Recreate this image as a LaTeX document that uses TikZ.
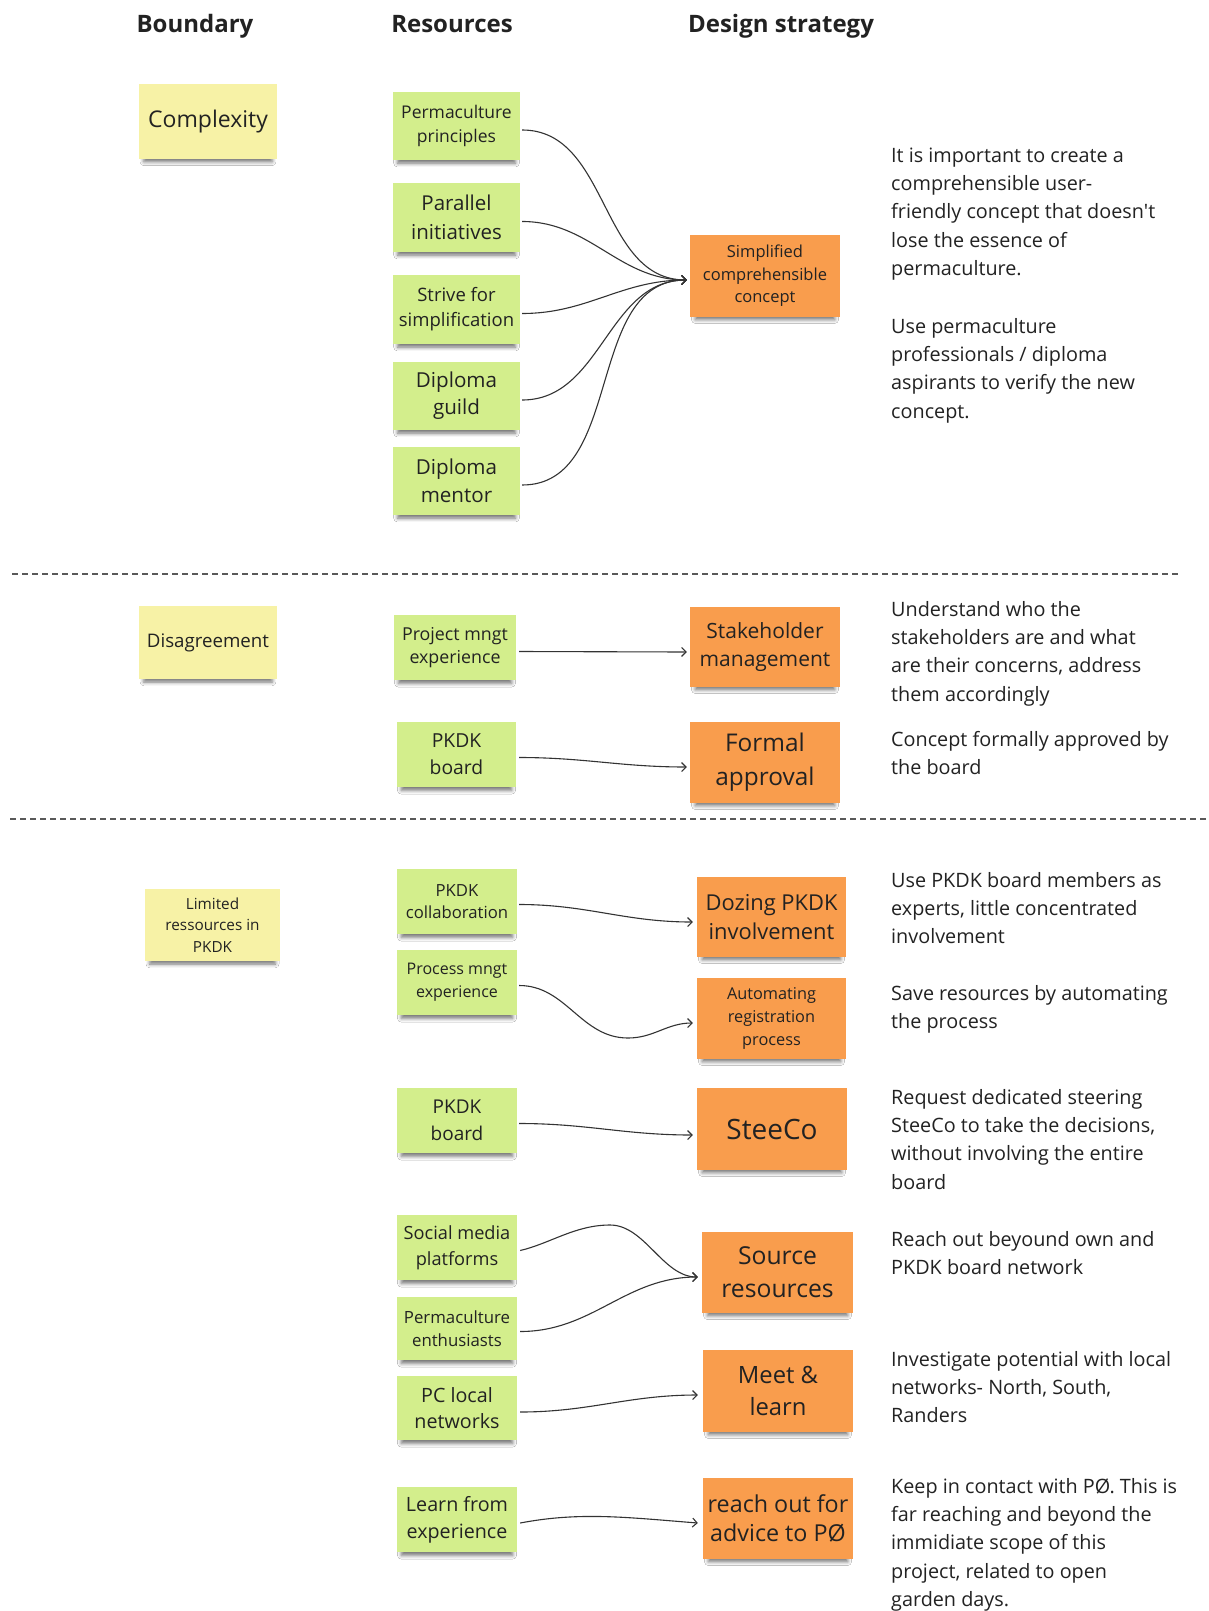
\documentclass[tikz,border=0pt]{standalone}
\usepackage{fontspec}
\setmainfont{Open Sans}
\usetikzlibrary{arrows.meta,shadows.blur,calc}

\definecolor{notegreen}{HTML}{D3EE8C}
\definecolor{noteyellow}{HTML}{F7F2A6}
\definecolor{noteorange}{HTML}{F99D4D}
\definecolor{ink}{HTML}{222222}
\definecolor{wire}{HTML}{333333}

\tikzset{
  sticky/.style={inner sep=0pt, align=center, text=ink,
    blur shadow={shadow xshift=0pt, shadow yshift=-6pt, shadow opacity=55,
                 shadow blur radius=4pt, shadow scale=0.93}},
  yellownote/.style={sticky, fill=noteyellow},
  greennote/.style={sticky, fill=notegreen},
  orangenote/.style={sticky, fill=noteorange},
  boxsize/.style 2 args={minimum width=#1pt, minimum height=#2pt},
  fs/.style 2 args={font=\fontsize{#1}{#2}\selectfont},
  conn/.style={draw=wire, line width=1.1pt, -{Straight Barb[length=4.5pt,width=9pt]}},
  divider/.style={draw=black!65, line width=1.2pt, dash pattern=on 6pt off 4pt},
  header/.style={anchor=base, inner sep=0pt, text=ink, font=\fontsize{24}{28}\selectfont\bfseries},
  % multi-line text: the base anchor sits on the last line
  desc/.style={anchor=base west, align=left, inner sep=0pt, text=ink, font=\fontsize{19.8}{28.4}\selectfont},
}

\begin{document}
\begin{tikzpicture}[x=1pt,y=-1pt]
\useasboundingbox (0,0) rectangle (1208,1611);
\fill[white] (0,0) rectangle (1208,1611);

% column headings
\node[header] (hb) at (195,33) {Boundary};
\node[header] (hr) at (452,33) {Resources};
\node[header] (hd) at (781,33) {Design strategy};

% section dividers
\draw[divider] (12,574) -- (1181,574);
\draw[divider] (10,819) -- (1208,819);

% ---------- boundaries ----------
\node[yellownote, boxsize={138}{75}, fs={23}{28}] (cplx) at (208,121.5) {Complexity};
\node[yellownote, boxsize={138}{73}, fs={18.7}{24}] (disag) at (208,642.5) {Disagreement};
\node[yellownote, boxsize={135}{72}, fs={15.3}{21.3}] (limited) at (212.5,925) {Limited\\ressources in\\PKDK};

% ---------- resources: complexity ----------
\node[greennote, boxsize={127}{68}, fs={17.5}{24.7}] (pp) at (456.5,126) {Permaculture\\principles};
\node[greennote, boxsize={127}{69}, fs={20.5}{29}] (par) at (456.5,217.5) {Parallel\\initiatives};
\node[greennote, boxsize={127}{69}, fs={18.5}{25}] (strive) at (456.5,309.5) {Strive for\\simplification};
\node[greennote, boxsize={127}{68}, fs={20.6}{27}] (guild) at (456.5,396) {Diploma\\guild};
\node[greennote, boxsize={127}{68}, fs={20.6}{27.5}] (mentor) at (456.5,481) {Diploma\\mentor};

% ---------- resources: disagreement ----------
\node[greennote, boxsize={122}{65}, fs={17.8}{23.5}] (pm) at (455,647.5) {Project mngt\\experience};
\node[greennote, boxsize={119}{65}, fs={19.3}{26.7}] (boardA) at (456.5,754.5) {PKDK\\board};

% ---------- resources: limited ressources ----------
\node[greennote, boxsize={120}{65}, fs={16.7}{22.5}] (collab) at (457,901.5) {PKDK\\collaboration};
\node[greennote, boxsize={120}{65}, fs={16}{23.3}] (procm) at (457,982.5) {Process mngt\\experience};
\node[greennote, boxsize={120}{65}, fs={19}{26.7}] (boardB) at (457,1120.5) {PKDK\\board};
\node[greennote, boxsize={120}{65}, fs={18.2}{26}] (social) at (457,1247.5) {Social media\\platforms};
\node[greennote, boxsize={120}{63}, fs={16.8}{22.7}] (enth) at (457,1328.5) {Permaculture\\enthusiasts};
\node[greennote, boxsize={120}{64}, fs={19.7}{26.7}] (pcl) at (457,1408) {PC local\\networks};
\node[greennote, boxsize={120}{65}, fs={19.7}{26.7}] (lexp) at (457,1519.5) {Learn from\\experience};

% ---------- design strategies ----------
\node[orangenote, boxsize={150}{82}, fs={16.5}{22.5}] (simp) at (765,276) {Simplified\\comprehensible\\concept};
\node[orangenote, boxsize={150}{80}, fs={21}{27.3}] (stake) at (765,647) {Stakeholder\\management};
\node[orangenote, boxsize={150}{81}, fs={24.4}{34}] (formal) at (765,762.5) {Formal\\approval};
\node[orangenote, boxsize={149}{80}, fs={21.9}{28.3}] (dozing) at (771.5,917) {Dozing PKDK\\involvement};
\node[orangenote, boxsize={149}{81}, fs={16.3}{23.3}] (auto) at (771.5,1018.5) {Automating\\registration\\process};
\node[orangenote, boxsize={150}{82}, fs={28}{32}] (steeco) at (772,1129) {SteeCo};
\node[orangenote, boxsize={151}{81}, fs={24.7}{33.3}] (source) at (777.5,1272.5) {Source\\resources};
\node[orangenote, boxsize={150}{82}, fs={23.8}{32.7}] (meet) at (778,1391) {Meet \&\\learn};
\node[orangenote, boxsize={150}{81}, fs={23.3}{28.3}] (reach) at (778,1518.5) {reach out for\\advice to PØ};

% ---------- connectors ----------
\coordinate (simpin) at ($(simp.west)+(-3,4)$);
\foreach \r in {pp,par,strive,guild,mentor}
  \draw[conn] ($(\r.east)+(2,4)$) to[out=0,in=180] (simpin);

\draw[conn] ($(pm.east)+(3,4)$) -- ($(stake.west)+(-3,5)$);
\draw[conn] ($(boardA.east)+(3,3)$) to[out=0,in=180] ($(formal.west)+(-3,4.5)$);

\draw[conn] ($(collab.east)+(2,3)$) to[out=0,in=180] ($(dozing.west)+(-4,5)$);
\coordinate (dip) at (628,1038);
\draw[conn] ($(procm.east)+(2,3)$) to[out=0,in=180] (dip) to[out=0,in=180] ($(auto.west)+(-4,4.5)$);
\draw[conn] ($(boardB.east)+(2,3)$) to[out=0,in=180] ($(steeco.west)+(-4,6)$);

\coordinate (crest) at (610,1225);
\coordinate (sourcein) at ($(source.west)+(-4,4.5)$);
\draw[conn] ($(social.east)+(3,3)$) .. controls ($(social.east)+(33,-4)$) and ($(crest)+(-35,0)$) .. (crest)
  .. controls ($(crest)+(35,0)$) and ($(sourcein)+(-35,0)$) .. (sourcein);
\draw[conn] ($(enth.east)+(3,3)$) to[out=0,in=180] (sourcein);
\draw[conn] ($(pcl.east)+(3,4)$) to[out=0,in=180] ($(meet.west)+(-5,4)$);
\draw[conn] ($(lexp.east)+(3,3.5)$) .. controls ($(lexp.east)+(63,-8)$) and ($(reach.west)+(-75,-1)$) .. ($(reach.west)+(-5,4.5)$);

% ---------- explanations (placed by the baseline of their last line) ----------
\node[desc] (t1) at (891,275.6) {It is important to create a\\comprehensible user-\\friendly concept that doesn\textquotesingle t\\lose the essence of\\permaculture.};
\node[desc] (t2) at (891,418.2) {Use permaculture\\professionals / diploma\\aspirants to verify the new\\concept.};
\node[desc] (t3) at (891,701.2) {Understand who the\\stakeholders are and what\\are their concerns, address\\them accordingly};
\node[desc] (t4) at (891,774.4) {Concept formally approved by\\the board};
\node[desc] (t5) at (891,943.8) {Use PKDK board members as\\experts, little concentrated\\involvement};
\node[desc] (t6) at (891,1028.4) {Save resources by automating\\the process};
\node[desc] (t7) at (891,1189.2) {Request dedicated steering\\SteeCo to take the decisions,\\without involving the entire\\board};
\node[desc] (t8) at (891,1274.4) {Reach out beyound own and\\PKDK board network};
\node[desc] (t9) at (891,1422.8) {Investigate potential with local\\networks- North, South,\\Randers};
\node[desc] (t10) at (891,1606.6) {Keep in contact with PØ. This is\\far reaching and beyond the\\immidiate scope of this\\project, related to open\\garden days.};
\end{tikzpicture}
\end{document}
